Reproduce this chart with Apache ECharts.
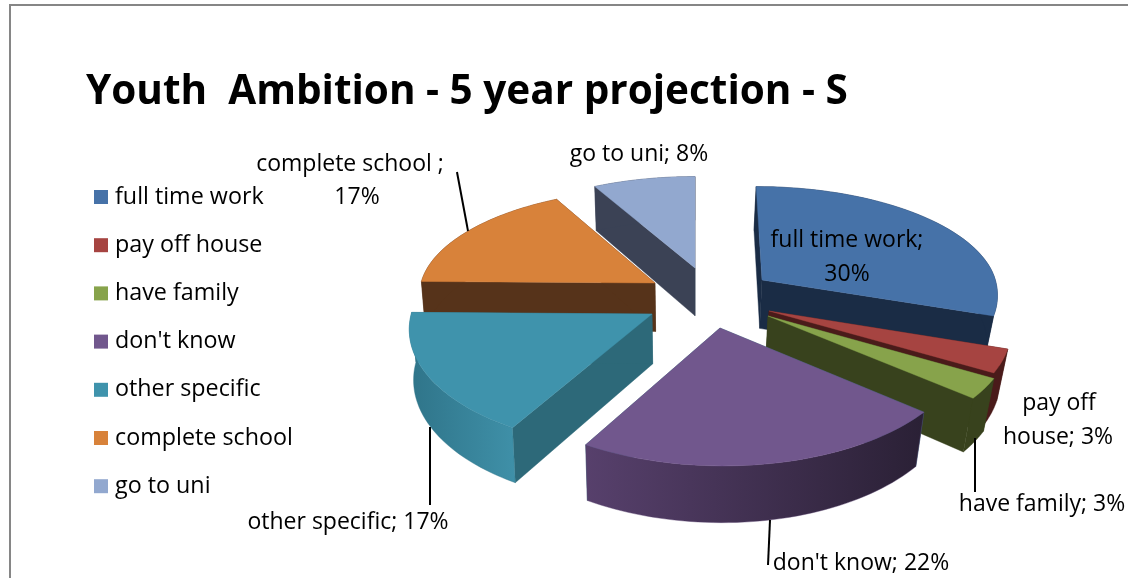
<!DOCTYPE html>
<html>
<head>
<meta charset="utf-8">
<style>html,body{margin:0;padding:0;background:#fff}#c{width:1128px;height:578px}</style>
<script src="https://cdn.jsdelivr.net/npm/echarts@6/dist/echarts.min.js"></script>
</head>
<body>
<div id="c"></div>
<script>
var titleText = "Youth  Ambition - 5 year projection - S";
var categories = ["full time work","pay off house","have family","don't know","other specific","complete school","go to uni"];
/* unrounded shares; the printed labels round these */
var values = [30.0,3.2,2.8,22.49,16.75,16.96,7.8];
var labelLines = [["full time work;","30%"],["pay off","house; 3%"],["have family; 3%"],["don't know; 22%"],["other specific; 17%"],["complete school ;","17%"],["go to uni; 8%"]];

/* styling: one entry per slice */
var topColors  = ["#4672A8","#A64441","#87A34B","#71578D","#3F93AC","#D8823A","#92A8CF"];
var sideColors = ["#1A2C45","#4A1B1A","#38421D","#2D6979","#2D6979","#56331A","#3B4255"];
var arcColors  = [["#1A2C45","#1A2C45"],["#4A1B1A","#4A1B1A"],["#38421D","#38421D"],["#57406C","#2A2035"],["#2F7489","#3F90A8"],["#56331A","#56331A"],["#3B4255","#3B4255"]];
var drawOrder  = [2,3,4,6,5,1,0];
/* perspective camera and slice explosion */
var cam = {vx:695, vy:-791, ref:1074, k:0.00045, R:234, depth:48.5, backFore:0.91, shrinkL:0.985, shrinkR:0.965};
var apexes = [[762,280],[769,311],[768,316],[720,328],[652,314],[655,283],[695,268]];
var labelPos = [[[847,240],[847,274]],[[1059,403],[1058,437]],[[1042,504]],[[861,563]],[[348,522]],[[350,164],[357,197]],[[639,154]]];
var leaders = [null,null,[[975,438],[975,492]],[[770,520],[768,565]],[[430,427],[430,505]],[[457,172],[468,231]],null];

var total = values.reduce(function(a,b){return a+b;},0);
function toWorld(p){var s=(p[1]-cam.vy)/cam.ref;return [(p[0]-cam.vx)/s,(1-1/s)/cam.k];}
function project(wx,wy){var s=1/(1-cam.k*wy);return [cam.vx+wx*s,cam.vy+cam.ref*s];}
function drop(p){var s=(p[1]-cam.vy)/cam.ref,f=p[0]<cam.vx?cam.shrinkL:cam.shrinkR;return [cam.vx+(p[0]-cam.vx)*f,p[1]+cam.depth*s];}
function startAngle(i){var c=0;for(var j=0;j<i;j++)c+=values[j];return c/total*2*Math.PI;}

function renderSlice(i){
  return function(params,api){
    var v=api.value(0), a0=startAngle(i), a1=a0+v/total*2*Math.PI;
    var o=toWorld(apexes[i]), N=48, arc=[];
    for(var n=0;n<=N;n++){
      var a=a0+(a1-a0)*n/N, c=Math.cos(a);
      arc.push(project(o[0]+cam.R*Math.sin(a),o[1]-cam.R*c*(c>0?cam.backFore:1)));
    }
    var apex=apexes[i], apexB=drop(apex), arcB=arc.map(drop);
    var poly=function(pts,fill){return {type:'polygon',silent:true,shape:{points:pts},
      style:{fill:fill,stroke:typeof fill==='string'?fill:fill.colorStops[0].color,lineWidth:0.4}};};
    return {type:'group',children:[
      poly([apex,arc[0],arcB[0],apexB],sideColors[i]),
      poly([apex,arc[N],arcB[N],apexB],sideColors[i]),
      poly(arc.concat(arcB.slice().reverse()),{type:'linear',x:0,y:0,x2:1,y2:0,colorStops:[{offset:0,color:arcColors[i][0]},{offset:1,color:arcColors[i][1]}]}),
      poly([apex].concat(arc),topColors[i])
    ]};
  };
}

/* labels and leader lines sit above every slice */
function renderLabels(params,api){
  var i=params.dataIndex, kids=[];
  if(leaders[i]) kids.push({type:'polyline',silent:true,shape:{points:leaders[i]},style:{stroke:'#000',lineWidth:2,fill:null}});
  labelLines[i].forEach(function(line,j){
    var p=labelPos[i][j];
    kids.push({type:'text',silent:true,style:{text:line,x:p[0],y:p[1],align:'center',verticalAlign:'middle',
      fill:'#000',font:'23px "Open Sans"'}});
  });
  return {type:'group',children:kids};
}

var series = categories.map(function(name,i){
  return {type:'custom',name:name,coordinateSystem:'none',z:2+drawOrder[i],animation:false,silent:true,
    itemStyle:{color:topColors[i]},data:[[values[i]]],renderItem:renderSlice(i)};
});
series.push({type:'custom',name:'labels',coordinateSystem:'none',z:20,animation:false,silent:true,
  data:values.map(function(v){return [v];}),renderItem:renderLabels});

var chart = echarts.init(document.getElementById('c'),null,{renderer:'canvas'});
chart.setOption({
  backgroundColor:'#fff',
  animation:false,
  title:{text:titleText,left:81,top:67,textStyle:{fontFamily:'Open Sans',fontWeight:'bold',fontSize:40.5,color:'#000'}},
  legend:{orient:'vertical',left:89,top:180,itemWidth:14,itemHeight:14,itemGap:24.2,icon:'rect',selectedMode:false,data:categories,
    textStyle:{fontFamily:'Open Sans',fontSize:23.3,color:'#000',lineHeight:24,padding:[0,0,0,2]}},
  graphic:[{type:'polyline',silent:true,shape:{points:[[10,578],[10,5],[1128,5]]},style:{stroke:'#868686',lineWidth:2,fill:null}}],
  series:series
});
</script>
</body>
</html>
